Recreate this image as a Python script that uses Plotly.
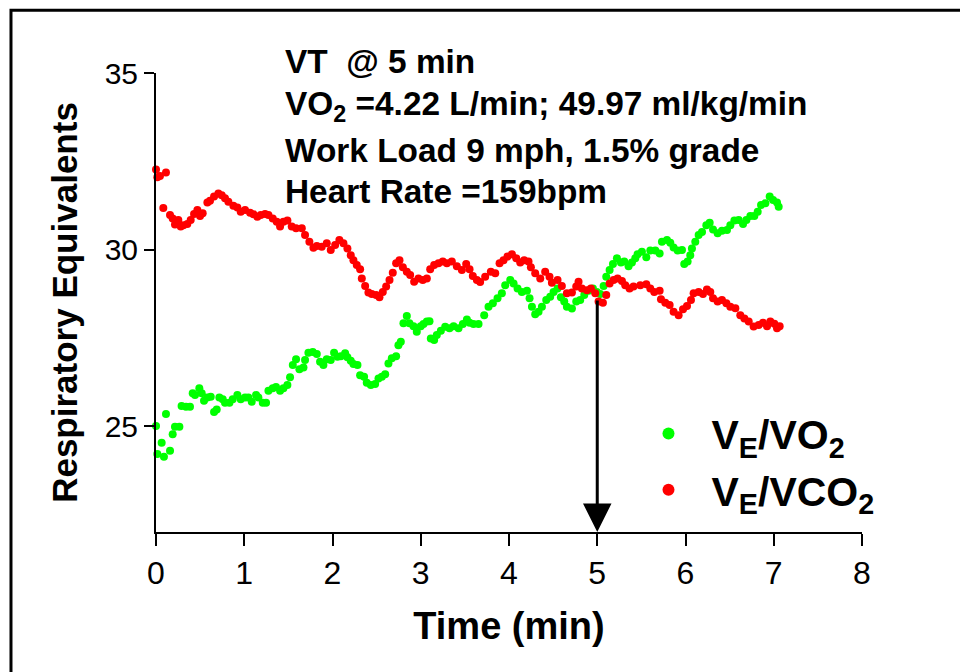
import plotly.graph_objects as go

# ---- data: V_E/VO2 (green) ----
t_vo2 = [0.0, 0.015, 0.064, 0.09, 0.113, 0.159, 0.189, 0.215, 0.265, 0.29, 0.34, 0.385, 0.416, 0.442,
         0.491, 0.518, 0.544, 0.582, 0.62, 0.658, 0.688, 0.718, 0.756, 0.782, 0.832, 0.869, 0.922, 0.96,
         1.009, 1.047, 1.085, 1.134, 1.16, 1.21, 1.247, 1.274, 1.323, 1.36, 1.406, 1.444, 1.489, 1.519,
         1.55, 1.587, 1.625, 1.671, 1.689, 1.727, 1.776, 1.822, 1.859, 1.897, 1.935, 1.98, 2.018, 2.056,
         2.094, 2.143, 2.169, 2.207, 2.237, 2.283, 2.313, 2.358, 2.388, 2.434, 2.483, 2.521, 2.559, 2.597,
         2.634, 2.672, 2.721, 2.747, 2.774, 2.804, 2.842, 2.872, 2.918, 2.955, 3.0, 3.031, 3.069, 3.099,
         3.114, 3.152, 3.182, 3.228, 3.277, 3.326, 3.372, 3.428, 3.477, 3.523, 3.553, 3.598, 3.655, 3.719,
         3.768, 3.817, 3.87, 3.919, 3.957, 4.014, 4.052, 4.097, 4.146, 4.203, 4.233, 4.26, 4.297, 4.335,
         4.373, 4.422, 4.467, 4.505, 4.55, 4.588, 4.626, 4.656, 4.713, 4.762, 4.807, 4.853, 4.902, 4.951,
         4.996, 5.034, 5.072, 5.102, 5.14, 5.178, 5.223, 5.268, 5.306, 5.355, 5.393, 5.431, 5.457, 5.506,
         5.556, 5.601, 5.658, 5.707, 5.733, 5.79, 5.828, 5.865, 5.911, 5.96, 5.986, 6.024, 6.054, 6.073,
         6.111, 6.149, 6.187, 6.236, 6.274, 6.312, 6.364, 6.413, 6.47, 6.508, 6.554, 6.603, 6.652, 6.69,
         6.735, 6.78, 6.818, 6.856, 6.905, 6.954, 6.992, 7.037, 7.056]
ve_vo2 = [25.0, 24.21, 24.53, 24.13, 25.34, 24.30, 24.77, 24.98, 24.98, 25.57, 25.55, 25.55, 25.93, 25.88,
          26.07, 25.93, 25.72, 25.81, 25.83, 25.40, 25.47, 25.81, 25.76, 25.66, 25.66, 25.76, 25.88, 25.76,
          25.81, 25.81, 25.69, 25.88, 25.81, 25.66, 25.66, 26.00, 26.07, 26.11, 26.00, 26.07, 26.16, 26.38,
          26.73, 26.89, 26.61, 26.66, 26.87, 27.08, 27.10, 27.04, 26.82, 26.73, 26.89, 26.87, 27.08, 26.96,
          26.98, 27.06, 26.95, 26.85, 26.76, 26.73, 26.44, 26.40, 26.23, 26.16, 26.19, 26.35, 26.40, 26.47,
          26.77, 26.92, 26.98, 27.29, 27.39, 27.91, 28.12, 27.91, 27.83, 27.67, 27.83, 27.89, 27.96, 27.97,
          27.48, 27.44, 27.58, 27.70, 27.81, 27.77, 27.83, 27.77, 27.89, 28.02, 27.93, 27.89, 27.89, 28.14,
          28.38, 28.48, 28.62, 28.76, 28.99, 29.14, 29.04, 28.90, 28.80, 28.83, 28.62, 28.38, 28.17, 28.24,
          28.38, 28.57, 28.66, 28.80, 28.90, 28.65, 28.53, 28.38, 28.33, 28.53, 28.57, 28.71, 28.83, 28.90,
          28.80, 28.74, 28.97, 29.23, 29.42, 29.59, 29.75, 29.63, 29.66, 29.53, 29.63, 29.75, 29.87, 29.94,
          29.78, 29.97, 29.97, 29.89, 30.22, 30.27, 30.19, 30.06, 29.97, 29.99, 29.59, 29.66, 29.84, 30.03,
          30.22, 30.41, 30.50, 30.69, 30.76, 30.57, 30.46, 30.53, 30.55, 30.69, 30.82, 30.84, 30.72, 30.84,
          30.95, 30.95, 31.07, 31.26, 31.31, 31.50, 31.40, 31.33, 31.21]

# ---- data: V_E/VCO2 (red) ----
t_vco2 = [0.0, 0.015, 0.045, 0.083, 0.113, 0.159, 0.189, 0.215, 0.253, 0.28, 0.31, 0.355, 0.393, 0.431,
          0.469, 0.499, 0.529, 0.582, 0.612, 0.658, 0.707, 0.745, 0.782, 0.82, 0.877, 0.922, 0.96, 1.009,
          1.066, 1.104, 1.149, 1.187, 1.236, 1.274, 1.323, 1.368, 1.406, 1.444, 1.489, 1.538, 1.587, 1.652,
          1.689, 1.738, 1.784, 1.822, 1.878, 1.935, 1.98, 2.03, 2.078, 2.124, 2.169, 2.207, 2.237, 2.275,
          2.313, 2.332, 2.37, 2.407, 2.445, 2.494, 2.532, 2.57, 2.608, 2.646, 2.683, 2.721, 2.759, 2.797,
          2.842, 2.88, 2.925, 2.974, 3.023, 3.069, 3.107, 3.152, 3.201, 3.25, 3.296, 3.352, 3.409, 3.466,
          3.515, 3.553, 3.59, 3.636, 3.673, 3.73, 3.794, 3.844, 3.893, 3.938, 3.983, 4.033, 4.082, 4.127,
          4.172, 4.221, 4.248, 4.297, 4.354, 4.41, 4.459, 4.486, 4.55, 4.599, 4.656, 4.713, 4.762, 4.788,
          4.826, 4.883, 4.928, 4.977, 5.015, 5.064, 5.102, 5.14, 5.185, 5.23, 5.28, 5.317, 5.366, 5.411,
          5.488, 5.556, 5.601, 5.646, 5.707, 5.722, 5.771, 5.82, 5.865, 5.922, 5.972, 6.017, 6.062, 6.092,
          6.149, 6.198, 6.243, 6.281, 6.312, 6.364, 6.413, 6.463, 6.508, 6.565, 6.621, 6.667, 6.716, 6.772,
          6.829, 6.878, 6.924, 6.961, 7.007, 7.037, 7.067]
ve_vco2 = [32.27, 32.05, 32.08, 31.18, 32.18, 30.98, 30.88, 30.71, 30.84, 30.65, 30.69, 30.72, 30.84, 31.01,
           31.12, 30.95, 31.03, 31.33, 31.38, 31.50, 31.59, 31.54, 31.45, 31.35, 31.24, 31.19, 31.07, 31.12,
           31.04, 31.00, 30.93, 30.98, 31.01, 30.98, 30.88, 30.79, 30.65, 30.79, 30.82, 30.65, 30.60, 30.60,
           30.41, 30.22, 30.05, 30.10, 30.08, 30.18, 29.99, 30.13, 30.27, 30.18, 30.03, 29.84, 29.70, 29.56,
           29.44, 29.18, 28.97, 28.78, 28.74, 28.71, 28.65, 28.80, 28.95, 29.14, 29.34, 29.61, 29.70, 29.50,
           29.37, 29.28, 29.09, 29.18, 29.14, 29.18, 29.44, 29.56, 29.61, 29.66, 29.61, 29.66, 29.53, 29.42,
           29.59, 29.44, 29.25, 29.14, 29.08, 29.23, 29.37, 29.33, 29.61, 29.70, 29.80, 29.87, 29.75, 29.63,
           29.70, 29.66, 29.50, 29.33, 29.18, 29.37, 29.23, 29.06, 29.14, 28.97, 28.76, 28.78, 28.95, 29.09,
           28.90, 28.85, 28.90, 28.76, 28.53, 28.49, 28.71, 29.04, 29.14, 29.18, 29.11, 28.99, 28.90, 28.95,
           28.99, 29.02, 28.90, 28.80, 28.83, 28.59, 28.49, 28.43, 28.24, 28.14, 28.31, 28.40, 28.57, 28.76,
           28.80, 28.74, 28.87, 28.80, 28.62, 28.53, 28.57, 28.48, 28.38, 28.34, 28.14, 28.05, 27.96, 27.82,
           27.86, 27.93, 27.83, 27.96, 27.90, 27.77, 27.83]

x_ticks = [0, 1, 2, 3, 4, 5, 6, 7, 8]
y_ticks = [25, 30, 35]
vt_time = 5
vt_value = 28.6

FONT = "Liberation Sans, Arial, sans-serif"

fig = go.Figure()
fig.add_trace(go.Scatter(
    x=t_vo2, y=ve_vo2, mode="markers", name="V<sub>E</sub>/VO<sub>2</sub>",
    marker=dict(color="#00FF00", size=8), cliponaxis=False, legendgroup="a"))
fig.add_trace(go.Scatter(
    x=t_vco2, y=ve_vco2, mode="markers", name="V<sub>E</sub>/VCO<sub>2</sub>",
    marker=dict(color="#FF0000", size=8), cliponaxis=False, legendgroup="b"))

annots = [
    dict(text="VT  @ 5 min", y=1.024),
    dict(text="VO<sub>2</sub> =4.22 L/min; 49.97 ml/kg/min", y=0.928),
    dict(text="Work Load 9 mph, 1.5% grade", y=0.832),
    dict(text="Heart Rate =159bpm", y=0.741),
]
for a in annots:
    fig.add_annotation(text="<b>" + a["text"] + "</b>", xref="paper", yref="paper",
                       x=0.180, y=a["y"], xanchor="left", yanchor="middle", showarrow=False,
                       font=dict(family=FONT, size=33.4, color="black"))

# VT arrow
fig.add_annotation(x=vt_time, y=22, ax=vt_time, ay=vt_value, xref="x", yref="y",
                   axref="x", ayref="y", text="", showarrow=True, arrowhead=2,
                   arrowwidth=3, arrowsize=1.9, arrowcolor="black", standoff=0)

# outer border
fig.add_shape(type="rect", xref="paper", yref="paper",
              x0=-0.2054, x1=1.16, y0=-0.33, y1=1.1365,
              line=dict(color="black", width=3), fillcolor="rgba(0,0,0,0)", layer="below")

fig.update_layout(
    width=960, height=672,
    margin=dict(l=156, r=98, t=73, b=140),
    paper_bgcolor="white", plot_bgcolor="white",
    font=dict(family=FONT, color="black"),
    legend=dict(x=0.665, y=0.287, xanchor="left", yanchor="top",
                font=dict(family=FONT, size=41, color="black", weight="bold"),
                bgcolor="rgba(0,0,0,0)", itemsizing="constant", tracegroupgap=0,
                itemwidth=76),
    xaxis=dict(range=[0, 8], tickvals=x_ticks, showgrid=False, zeroline=False,
               showline=True, linecolor="black", linewidth=2,
               ticks="outside", ticklen=12, tickwidth=2, tickcolor="black",
               tickfont=dict(size=32, family=FONT),
               title=dict(text="<b>Time (min)</b>", font=dict(size=38, family=FONT), standoff=22)),
    yaxis=dict(range=[22, 35], tickvals=y_ticks, showgrid=False, zeroline=False,
               showline=True, linecolor="black", linewidth=2,
               ticks="outside", ticklen=10, tickwidth=2, tickcolor="black",
               tickfont=dict(size=30, family=FONT),
               title=dict(text="<b>Respiratory Equivalents</b>", font=dict(size=35, family=FONT), standoff=16)),
)

fig.write_html("out.html")
